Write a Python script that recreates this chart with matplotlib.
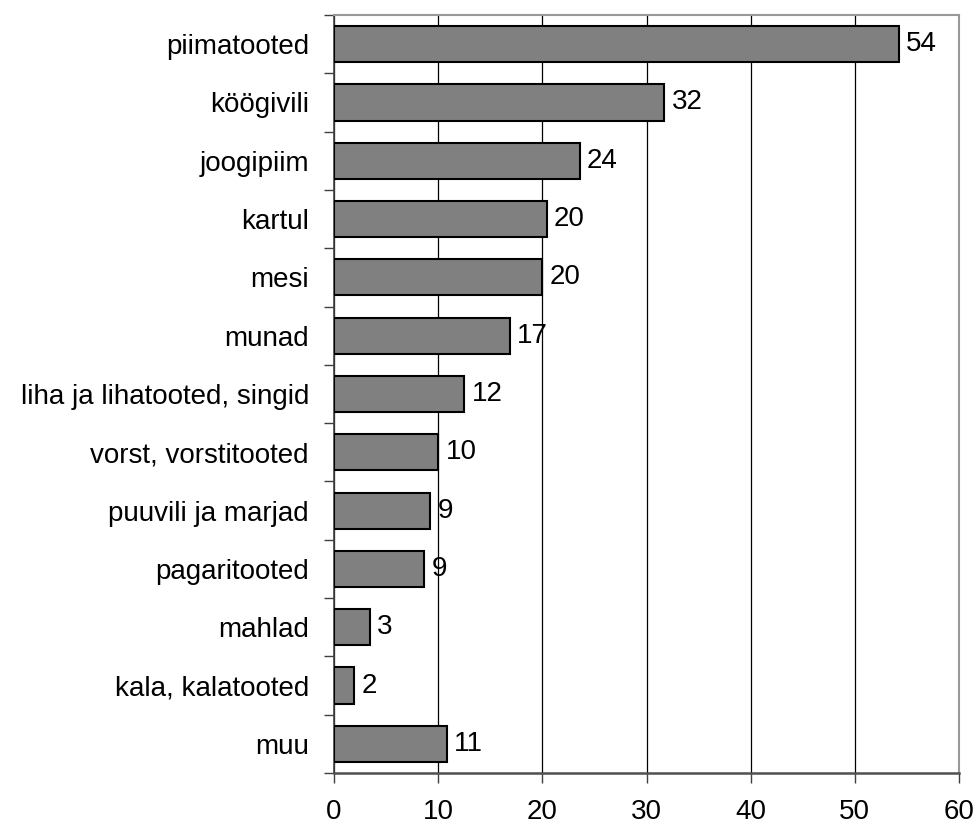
import matplotlib
matplotlib.use("Agg")
import matplotlib.pyplot as plt
import numpy as np

plt.rcParams['font.family'] = ['Liberation Sans', 'DejaVu Sans']

categories = ["piimatooted", "köögivili", "joogipiim", "kartul", "mesi", "munad",
              "liha ja lihatooted, singid", "vorst, vorstitooted", "puuvili ja marjad",
              "pagaritooted", "mahlad", "kala, kalatooted", "muu"]
values = [54.2, 31.7, 23.6, 20.4, 20.0, 16.9, 12.5, 10.0, 9.25, 8.65, 3.45, 1.93, 10.8]
labels = ["54", "32", "24", "20", "20", "17", "12", "10", "9", "9", "3", "2", "11"]
xticks = [0, 10, 20, 30, 40, 50, 60]

fig = plt.figure(figsize=(9.76, 8.25), dpi=100)
ax = fig.add_axes([334 / 976, (825 - 773) / 825, (959 - 334) / 976, (773 - 15) / 825])

y = np.arange(len(categories))
ax.barh(y, values, height=0.62, color="#808080", edgecolor="black", linewidth=1.5, zorder=3)
for yi, v, lab in zip(y, values, labels):
    ax.text(v + 0.7, yi, lab, va="center", ha="left", fontsize=20, zorder=4)

ax.set_ylim(len(categories) - 0.5, -0.5)
ax.set_xlim(0, 60)
ax.set_xticks(xticks)
ax.set_xticklabels([str(t) for t in xticks], fontsize=20)
ax.set_yticks(y)
ax.set_yticklabels(categories, fontsize=20)
ax.set_yticks(np.arange(len(categories) + 1) - 0.5, minor=True)
ax.tick_params(axis="y", which="major", length=0, pad=18)
ax.tick_params(axis="y", which="minor", length=7, width=1, color="#404040")
ax.tick_params(axis="x", length=7, width=1, color="#404040", pad=12)

ax.grid(axis="x", color="black", linewidth=0.9, zorder=0)
ax.set_axisbelow(True)

ax.spines["top"].set_color("#999999")
ax.spines["right"].set_color("#999999")
ax.spines["top"].set_linewidth(1.5)
ax.spines["right"].set_linewidth(1.5)
ax.spines["left"].set_color("#404040")
ax.spines["bottom"].set_color("#505050")
ax.spines["left"].set_linewidth(1.2)
ax.spines["bottom"].set_linewidth(1.8)

fig.savefig("out.png", dpi=100)
